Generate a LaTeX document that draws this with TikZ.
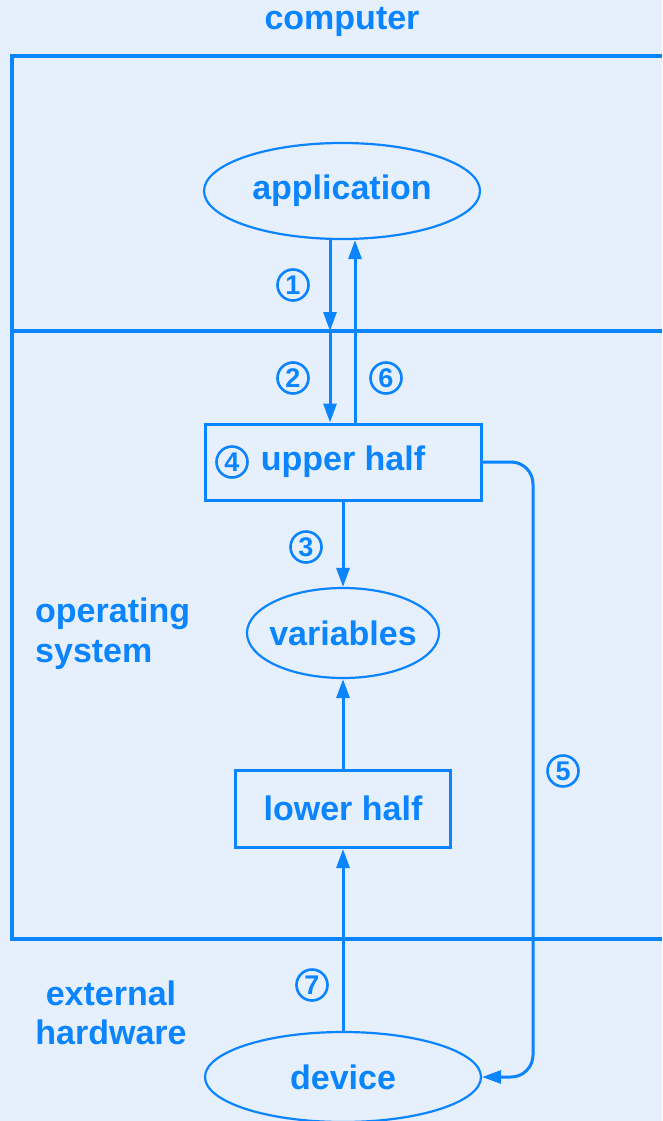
\documentclass[tikz,border=0pt]{standalone}
\usepackage{fontspec}
\setmainfont{Liberation Sans}
\usetikzlibrary{arrows.meta,shapes.geometric}
\definecolor{bg}{HTML}{E6F0FC}
\definecolor{fg}{HTML}{0A84FF}
\tikzset{
  frame/.style={draw=fg,line width=3.5pt},
  conn/.style={draw=fg,line width=3pt},
  arr/.style={conn,-{Triangle[length=19pt,width=13pt]}},
  ell/.style={ellipse,draw=fg,line width=2.2pt,inner sep=0pt,text=fg,font=\fontsize{34}{40}\selectfont\bfseries},
  boxn/.style={rectangle,draw=fg,line width=3pt,inner sep=0pt,text=fg,font=\fontsize{34}{40}\selectfont\bfseries},
  lbl/.style={text=fg,font=\fontsize{34}{40}\selectfont\bfseries,inner sep=0pt},
  num/.style={circle,draw=fg,line width=2.6pt,inner sep=0pt,minimum size=31pt,text=fg,font=\fontsize{27}{27}\selectfont\bfseries}
}
\begin{document}
\begin{tikzpicture}[x=1pt,y=-1pt]
\fill[bg] (0,0) rectangle (662,1121);
\useasboundingbox (0,0) rectangle (662,1121);
% frame
\draw[frame] (662,56) -- (12,56) -- (12,939) -- (662,939);
\draw[frame] (12,331) -- (662,331);
\node[lbl] (comp) at (342,22) {computer};
% nodes
\node[ell,minimum width=276pt,minimum height=96pt] (app) at (342,191) {application};
\node[boxn,minimum width=276pt,minimum height=76pt] (up) at (343,462) {upper half};
\node[ell,inner xsep=-8pt,minimum width=192pt,minimum height=90pt] (var) at (343,633) {variables};
\node[boxn,minimum width=215pt,minimum height=77pt] (low) at (343,809) {\raisebox{2pt}{lower half}};
\node[ell,minimum width=276pt,minimum height=90pt] (dev) at (343,1077) {device};
\node[lbl,align=left,anchor=west] (os) at (35,634) {operating\\[0pt]system};
\node[lbl,align=center] (ext) at (111,1013) {external\\[-1pt]hardware};
% connectors
\coordinate (m1) at (330,331);
\coordinate (m6) at (355,331);
\draw[arr] (app.south -| m1) -- (m1);
\draw[arr] (m1) -- (up.north -| m1);
\draw[arr] (up.north -| m6) -- (app.south -| m6);
\draw[arr] (up.south) -- (var.north);
\draw[arr] (low.north) -- (var.south);
\draw[arr] (dev.north) -- (low.south);
\draw[arr,rounded corners=22pt] (up.east) -- (533,462) -- (533,1077) -- (dev.east);
% numbers
\node[num] (n1) at (293,285) {1};
\node[num] (n2) at (293,378) {2};
\node[num] (n6) at (386,378) {6};
\node[num] (n3) at (306,547) {3};
\node[num] (n4) at (232,462) {4};
\node[num] (n5) at (563,771) {5};
\node[num] (n7) at (312,985) {7};
\end{tikzpicture}
\end{document}
